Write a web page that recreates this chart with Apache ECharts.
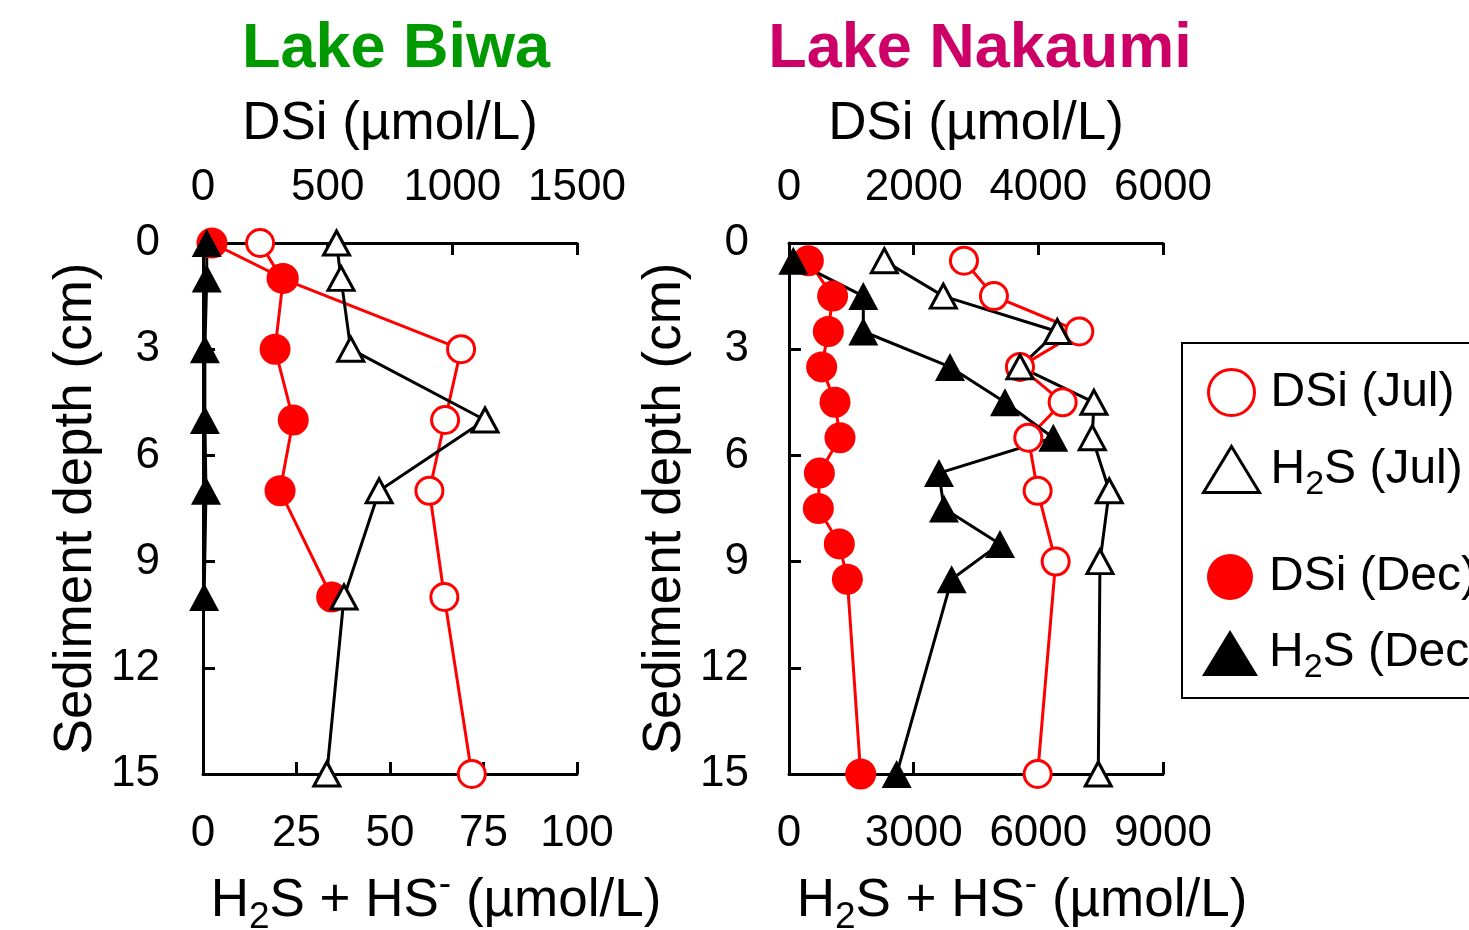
<!DOCTYPE html>
<html><head><meta charset="utf-8">
<script src="https://cdn.jsdelivr.net/npm/echarts@6/dist/echarts.min.js"></script>
<style>html,body{margin:0;padding:0;background:#fff}#c{width:1469px;height:930px}</style>
</head><body><div id="c"></div>
<script>
// ---- data ----
const depthTicks = [0, 3, 6, 9, 12, 15];
const biwaDsiTicks = [0, 500, 1000, 1500];
const biwaH2sTicks = [0, 25, 50, 75, 100];
const nakDsiTicks = [0, 2000, 4000, 6000];
const nakH2sTicks = [0, 3000, 6000, 9000];

// Lake Biwa
const biwaDsiJulDepth = [0, 1, 3, 5, 7, 10, 15];
const biwaDsiJul      = [229, 315, 1035, 971, 908, 968, 1078];
const biwaDsiDecDepth = [0, 1, 3, 5, 7, 10];
const biwaDsiDec      = [36, 322, 289, 362, 309, 516];
const biwaH2sJulDepth = [0, 1, 3, 5, 7, 10, 15];
const biwaH2sJul      = [35.7, 36.9, 39.5, 75.4, 47.1, 37.7, 33.1];
const biwaH2sDecDepth = [0, 1, 3, 5, 7, 10];
const biwaH2sDec      = [1, 1, 0.5, 0.5, 0.8, 0.3];

// Lake Nakaumi
const nakJulDepth = [0.5, 1.5, 2.5, 3.5, 4.5, 5.5, 7, 9, 15];
const nakDsiJul   = [2807, 3288, 4657, 3705, 4390, 3839, 3989, 4278, 3989];
const nakH2sJul   = [2294, 3713, 6456, 5558, 7338, 7298, 7707, 7483, 7442];
const nakDecDepth = [0.5, 1.5, 2.5, 3.5, 4.5, 5.5, 6.5, 7.5, 8.5, 9.5, 15];
const nakDsiDec   = [310, 700, 631, 524, 738, 818, 487, 471, 807, 936, 1150];
const nakH2sDec   = [104, 1788, 1788, 3874, 5197, 6360, 3609, 3729, 5077, 3914, 2591];

const seriesNames = ['DSi (Jul)', 'H2S (Jul)', 'DSi (Dec)', 'H2S (Dec)'];

// ---- styling ----
const FONT = '"Liberation Sans", Arial, Helvetica, sans-serif';
const RED = '#ff0000';
const pairs = (xs, ys) => xs.map((v, i) => [v, ys[i]]);

const richName = {
  n:   { fontSize: 53, lineHeight: 70, verticalAlign: 'middle', fontFamily: FONT, color: '#000' },
  sub: { fontSize: 37, lineHeight: 37, verticalAlign: 'bottom', fontFamily: FONT, color: '#000' },
  sup: { fontSize: 37, lineHeight: 37, verticalAlign: 'top', fontFamily: FONT, color: '#000' }
};

function xAxisCfg(grid, pos, ticks, name, isRich) {
  return {
    gridIndex: grid, type: 'value', position: pos,
    min: ticks[0], max: ticks[ticks.length - 1], interval: ticks[1] - ticks[0],
    name: name, nameLocation: 'middle', nameGap: 92,
    nameTextStyle: isRich ? { rich: richName, padding: [0, 0, 0, 92] }
                          : { fontSize: 53, fontFamily: FONT, color: '#000' },
    axisLine: { show: true, onZero: false, lineStyle: { color: '#000', width: 3 } },
    axisTick: { show: true, inside: true, length: 12, lineStyle: { color: '#000', width: 3 } },
    axisLabel: { fontSize: 44, fontFamily: FONT, color: '#000', margin: pos === 'top' ? 33 : 38,
      formatter: v => String(v) },
    splitLine: { show: false }
  };
}
function yAxisCfg(grid, margin, gap) {
  return {
    gridIndex: grid, type: 'value', inverse: true,
    min: depthTicks[0], max: depthTicks[depthTicks.length - 1], interval: depthTicks[1] - depthTicks[0],
    name: 'Sediment depth (cm)', nameLocation: 'middle', nameGap: gap,
    nameTextStyle: { fontSize: 53, fontFamily: FONT, color: '#000' },
    axisLine: { show: true, onZero: false, lineStyle: { color: '#000', width: 3 } },
    axisTick: { show: true, inside: true, length: 12, lineStyle: { color: '#000', width: 3 } },
    axisLabel: { fontSize: 44, fontFamily: FONT, color: '#000', margin: margin, formatter: v => String(v) },
    splitLine: { show: false }
  };
}

function mk(name, xIdx, yIdx, data, kind) {
  const s = { name: name, type: 'line', xAxisIndex: xIdx, yAxisIndex: yIdx, data: data,
    clip: false, animation: false, z: 2 };
  if (kind === 'dsiJul') {
    s.symbol = 'circle'; s.symbolSize = 27;
    s.itemStyle = { color: '#fff', borderColor: RED, borderWidth: 3 };
    s.lineStyle = { color: RED, width: 3 };
  } else if (kind === 'dsiDec') {
    s.symbol = 'circle'; s.symbolSize = 31;
    s.itemStyle = { color: RED, borderWidth: 0 };
    s.lineStyle = { color: RED, width: 3 };
  } else if (kind === 'h2sJul') {
    s.symbol = 'triangle'; s.symbolSize = [26, 24];
    s.itemStyle = { color: '#fff', borderColor: '#000', borderWidth: 3 };
    s.lineStyle = { color: '#000', width: 3 };
  } else {
    s.symbol = 'triangle'; s.symbolSize = [30, 28];
    s.itemStyle = { color: '#000', borderWidth: 0 };
    s.lineStyle = { color: '#000', width: 3 };
  }
  return s;
}

const legendRich = {
  n:   { fontSize: 48, lineHeight: 64, verticalAlign: 'middle', fontFamily: FONT, color: '#000' },
  sub: { fontSize: 34, lineHeight: 34, verticalAlign: 'bottom', fontFamily: FONT, color: '#000' }
};
function legendFmt(name) {
  if (name.indexOf('H2S') === 0) return '{n|H}{sub|2}{n|' + name.slice(2) + '}';
  return '{n|' + name + '}';
}
function legendCfg(top, items) {
  return {
    orient: 'vertical', left: 1202, top: top, padding: 0, itemGap: 28,
    itemWidth: 56, itemHeight: 46, selectedMode: false,
    formatter: legendFmt,
    textStyle: { rich: legendRich, padding: [0, 0, 0, 6] },
    data: items
  };
}

const option = {
  backgroundColor: '#fff',
  animation: false,
  grid: [
    { left: 203, top: 243, width: 374, height: 531, containLabel: false, outerBoundsMode: 'none' },
    { left: 789, top: 243, width: 374, height: 531, containLabel: false, outerBoundsMode: 'none' }
  ],
  xAxis: [
    xAxisCfg(0, 'top', biwaDsiTicks, 'DSi (µmol/L)', false),
    xAxisCfg(0, 'bottom', biwaH2sTicks, '{n|H}{sub|2}{n|S + HS}{sup|-}{n| (µmol/L)}', true),
    xAxisCfg(1, 'top', nakDsiTicks, 'DSi (µmol/L)', false),
    xAxisCfg(1, 'bottom', nakH2sTicks, '{n|H}{sub|2}{n|S + HS}{sup|-}{n| (µmol/L)}', true)
  ],
  yAxis: [yAxisCfg(0, 43, 100), yAxisCfg(1, 40, 97)],
  legend: [
    legendCfg(368, [
      { name: seriesNames[0], icon: 'circle', itemStyle: { color: '#fff', borderColor: RED, borderWidth: 3 } },
      { name: seriesNames[1], icon: 'triangle', itemStyle: { color: '#fff', borderColor: '#000', borderWidth: 3 } }
    ]),
    legendCfg(553, [
      { name: seriesNames[2], icon: 'circle', itemStyle: { color: RED, borderWidth: 0 } },
      { name: seriesNames[3], icon: 'triangle', itemStyle: { color: '#000', borderWidth: 0 } }
    ])
  ],
  graphic: [
    { type: 'text', x: 396, y: 50, style: { text: 'Lake Biwa', fontSize: 63, fontWeight: 'bold', fontFamily: FONT,
      fill: '#009900', align: 'center', verticalAlign: 'middle' } },
    { type: 'text', x: 980, y: 50, style: { text: 'Lake Nakaumi', fontSize: 63, fontWeight: 'bold', fontFamily: FONT,
      fill: '#cc0066', align: 'center', verticalAlign: 'middle' } },
    { type: 'rect', shape: { x: 1182, y: 343, width: 400, height: 355 },
      style: { fill: 'none', stroke: '#000', lineWidth: 2 }, z: -1 }
  ],
  series: [
    mk(seriesNames[0], 0, 0, pairs(biwaDsiJul, biwaDsiJulDepth), 'dsiJul'),
    mk(seriesNames[2], 0, 0, pairs(biwaDsiDec, biwaDsiDecDepth), 'dsiDec'),
    mk(seriesNames[1], 1, 0, pairs(biwaH2sJul, biwaH2sJulDepth), 'h2sJul'),
    mk(seriesNames[3], 1, 0, pairs(biwaH2sDec, biwaH2sDecDepth), 'h2sDec'),
    mk(seriesNames[0], 2, 1, pairs(nakDsiJul, nakJulDepth), 'dsiJul'),
    mk(seriesNames[2], 2, 1, pairs(nakDsiDec, nakDecDepth), 'dsiDec'),
    mk(seriesNames[1], 3, 1, pairs(nakH2sJul, nakJulDepth), 'h2sJul'),
    mk(seriesNames[3], 3, 1, pairs(nakH2sDec, nakDecDepth), 'h2sDec')
  ]
};
const chart = echarts.init(document.getElementById('c'), null, { renderer: 'canvas' });
chart.setOption(option);
</script></body></html>
